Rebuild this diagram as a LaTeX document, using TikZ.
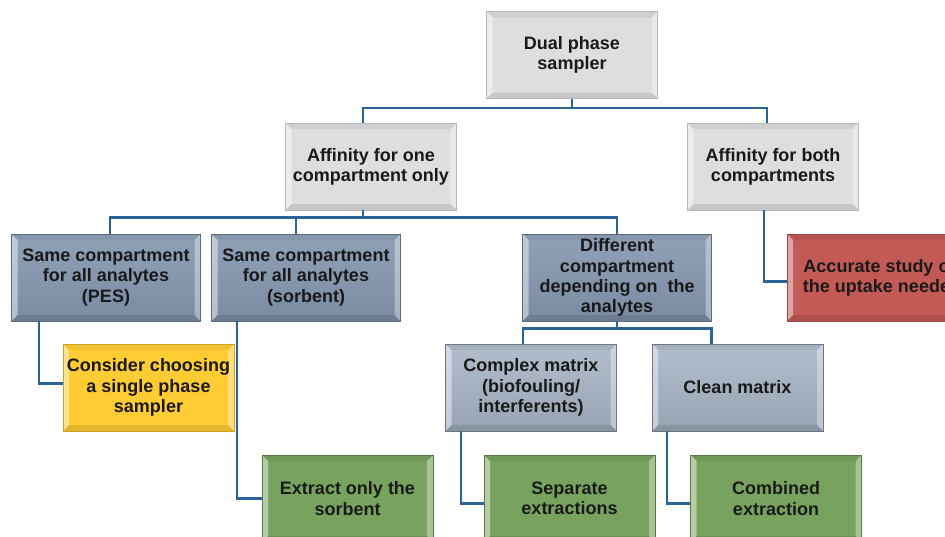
\documentclass[tikz,border=0pt]{standalone}
\usepackage{fontspec}
\setmainfont{Liberation Sans}
\usetikzlibrary{positioning}

\definecolor{linkblue}{HTML}{2A6496}
\definecolor{grayfill}{HTML}{DEDEDE}
\definecolor{slatefill}{HTML}{8497B0}
\definecolor{mistfill}{HTML}{A9B6C8}
\definecolor{sunfill}{HTML}{FFCC33}
\definecolor{brickfill}{HTML}{C45A55}
\definecolor{mossfill}{HTML}{77A35F}

% bevelled rim inside every box
\newcommand\bevelrim{%
  \fill[white,opacity=.45] (path picture bounding box.north west) -- ([shift={(6pt,-6pt)}]path picture bounding box.north west)
    -- ([shift={(6pt,6pt)}]path picture bounding box.south west) -- (path picture bounding box.south west) -- cycle;
  \fill[white,opacity=.35] (path picture bounding box.north east) -- ([shift={(-6pt,-6pt)}]path picture bounding box.north east)
    -- ([shift={(-6pt,6pt)}]path picture bounding box.south east) -- (path picture bounding box.south east) -- cycle;
  \fill[black,opacity=.06] (path picture bounding box.north west) -- ([shift={(6pt,-6pt)}]path picture bounding box.north west)
    -- ([shift={(-6pt,-6pt)}]path picture bounding box.north east) -- (path picture bounding box.north east) -- cycle;
  \fill[black,opacity=.10] (path picture bounding box.south west) -- ([shift={(6pt,6pt)}]path picture bounding box.south west)
    -- ([shift={(-6pt,6pt)}]path picture bounding box.south east) -- (path picture bounding box.south east) -- cycle;
}

\tikzset{
  box/.style={rectangle, minimum width=171pt, minimum height=87pt, inner sep=2pt, align=center,
    font=\bfseries\fontsize{18}{20.3}\selectfont, text=black!90, line width=0.8pt, path picture={\bevelrim}},
  graybox/.style={box, fill=grayfill, draw=black!28},
  slatebox/.style={box, minimum width=189pt, top color=slatefill!90!white, bottom color=slatefill!92!black, draw=slatefill!70!black},
  mistbox/.style={box, top color=mistfill!90!white, bottom color=mistfill!90!black, draw=mistfill!65!black},
  sunbox/.style={box, fill=sunfill, draw=sunfill!80!black},
  brickbox/.style={box, minimum width=190pt, fill=brickfill, draw=brickfill!80!black},
  mossbox/.style={box, fill=mossfill, draw=mossfill!75!black},
  link/.style={draw=linkblue, line width=2.2pt}
}

\begin{document}
\begin{tikzpicture}[x=1pt, y=-1pt]
  \useasboundingbox (0,0) rectangle (945,536);

  % level 1 and 2
  \node[graybox] (dual) at (572,55) {Dual phase\\sampler};
  \node[graybox] (oneaff) at (371,166.5) {Affinity for one\\compartment only};
  \node[graybox] (bothaff) at (773,166.5) {Affinity for both\\compartments};

  % level 3
  \node[slatebox] (samepes) at (106,277.5) {Same compartment\\for all analytes\\(PES)};
  \node[slatebox] (samesorb) at (306,277.5) {Same compartment\\for all analytes\\(sorbent)};
  \node[slatebox] (diffcomp) at (617,277.5) {Different\\compartment\\depending on\ \ the\\analytes};
  \node[brickbox] (accurate) at (882,277.5) {Accurate study on\\the uptake needed};

  % level 4
  \node[sunbox] (single) at (148.5,387.5) {Consider choosing\\a single phase\\sampler};
  \node[mistbox] (complex) at (531,387.5) {Complex matrix\\(biofouling/\\interferents)};
  \node[mistbox] (clean) at (737.5,387.5) {Clean matrix};

  % level 5
  \node[mossbox] (extract) at (347.5,498.5) {Extract only the\\sorbent};
  \node[mossbox] (separate) at (569.5,498.5) {Separate\\extractions};
  \node[mossbox] (combined) at (776,498.5) {Combined\\extraction};

  % connectors
  \draw[link] (dual.south) -- ++(0,9) coordinate (busa);
  \draw[link] ([xshift=-8pt]oneaff.north) |- (busa) -| ([xshift=-6pt]bothaff.north);
  \draw[link] ([xshift=-8pt]oneaff.south) -- ++(0,7) coordinate (busb);
  \draw[link] ([xshift=4pt]samepes.north) |- (busb) -| (diffcomp.north);
  \draw[link] ([xshift=-10pt]samesorb.north) -- ++(0,-17);
  \draw[link] ([xshift=-9pt]bothaff.south) |- ([yshift=-4pt]accurate.west);
  \draw[link] ([xshift=28pt]samepes.south west) |- ([yshift=4pt]single.west);
  \draw[link] ([xshift=26pt]samesorb.south west) |- (extract.west);
  \draw[link] (diffcomp.south) -- ++(0,7) coordinate (busc);
  \draw[link] ([xshift=-8pt]complex.north) |- (busc) -| ([xshift=-26pt]clean.north);
  \draw[link] ([xshift=16pt]complex.south west) |- ([yshift=-5pt]separate.west);
  \draw[link] ([xshift=15pt]clean.south west) |- ([yshift=-5pt]combined.west);
\end{tikzpicture}
\end{document}
